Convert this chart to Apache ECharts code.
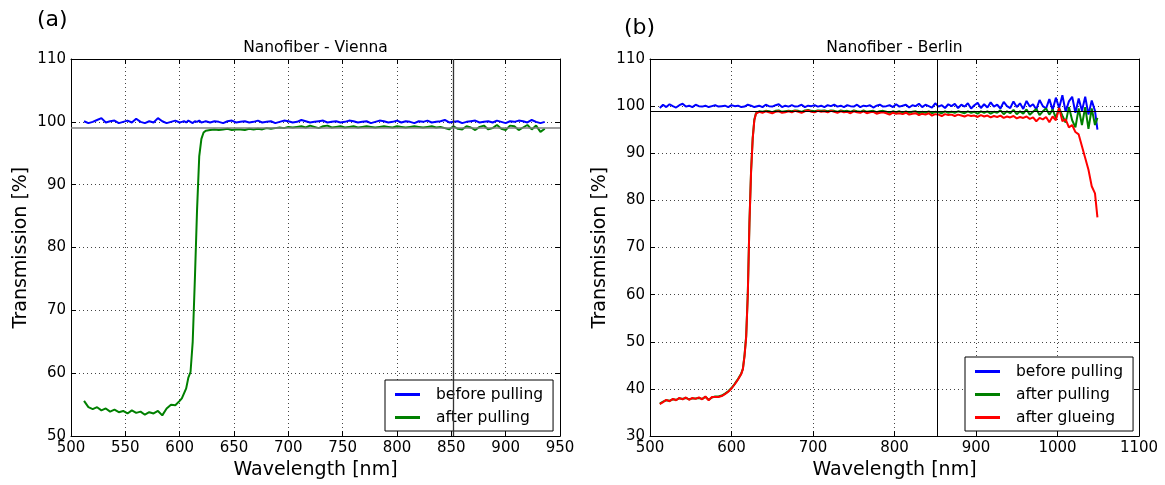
<!DOCTYPE html>
<html>
<head>
<meta charset="utf-8">
<script src="https://cdn.jsdelivr.net/npm/echarts@6/dist/echarts.min.js"></script>
<style>
html,body{margin:0;padding:0;background:#fff;}
#chart{width:1165px;height:485px;}
</style>
</head>
<body>
<div id="chart"></div>
<script>
// ---------- Panel (a): Nanofiber - Vienna ----------
const viennaWavelength = [
512,516,520,524,528,532,536,540,544,548,552,556,560,564,568,572,576,580,584,588,592,596,600,
602,604,606,608,610,612,614,616,618,620,622,624,
628,632,636,640,644,648,652,656,660,664,
668,672,676,680,684,688,692,696,700,704,
708,712,716,720,724,728,732,736,740,744,
748,752,756,760,764,768,772,776,780,784,
788,792,796,800,804,808,812,816,820,824,
828,832,836,840,844,848,852,856,860,864,
868,872,876,880,884,888,892,896,900,904,
908,912,916,920,924,928,932,936
];
const viennaBefore = [
100.1,99.8,100.0,100.3,100.6,99.9,100.1,100.2,99.8,100.0,100.2,99.9,100.5,100.0,99.8,100.1,99.9,100.6,100.1,99.8,100.0,100.2,99.9,
100.0,100.1,99.9,100.2,100.0,99.8,100.1,100.0,100.2,99.9,100.0,100.1,
99.9,100.1,100.0,99.8,100.1,100.2,99.9,100.0,100.1,99.9,
100.0,100.2,99.9,100.0,100.1,99.8,100.0,100.2,100.1,99.9,
100.0,100.3,100.1,99.9,100.0,100.1,100.2,99.9,100.0,100.1,
99.9,100.0,100.2,100.1,99.9,100.0,100.1,99.8,100.0,100.2,
100.1,99.9,100.0,100.2,99.9,100.1,100.0,99.8,100.1,100.0,
100.2,99.9,100.0,100.1,100.3,99.9,100.0,100.1,99.8,100.0,
100.1,100.2,99.9,100.0,100.1,99.9,100.2,100.0,99.8,100.1,
100.0,100.2,100.1,99.9,100.3,100.0,99.8,100.0
];
const viennaAfter = [
55.6,54.6,54.3,54.6,54.1,54.4,53.9,54.2,53.8,54.0,53.6,54.1,53.7,53.9,53.4,53.8,53.6,54.0,53.3,54.4,55.0,54.9,55.6,
56.0,56.8,57.6,59.3,60.2,65.0,75.0,86.0,94.5,97.3,98.3,98.6,
98.7,98.8,98.7,98.8,98.9,98.7,98.8,98.8,98.7,98.9,
98.8,98.9,98.8,99.0,98.9,99.0,99.1,99.0,99.2,99.1,
99.2,99.3,99.1,99.4,99.2,99.0,99.3,99.4,99.1,99.2,
99.3,99.1,99.2,99.3,99.1,99.2,99.3,99.2,99.1,99.2,
99.3,99.2,99.1,99.3,99.2,99.1,99.2,99.3,99.2,99.1,
99.2,99.3,99.1,99.2,99.0,98.8,99.3,98.9,98.8,99.3,
99.1,98.7,99.2,99.4,98.8,99.0,99.5,98.9,98.7,99.4,
99.3,98.7,99.1,99.5,98.8,99.4,98.4,98.9
];

// ---------- Panel (b): Nanofiber - Berlin ----------
const berlinWavelength = [
512,516,520,524,528,532,536,540,544,548,552,556,560,564,568,572,576,580,584,588,592,596,600,604,
606,608,610,612,614,616,618,620,622,624,626,628,630,
634,638,642,646,650,654,658,662,666,670,
674,678,682,686,690,694,698,702,706,710,
714,718,722,726,730,734,738,742,746,750,
754,758,762,766,770,774,778,782,786,790,
794,798,802,806,810,814,818,822,826,830,
834,838,842,846,850,854,858,862,866,870,
874,878,882,886,890,894,898,902,906,910,
914,918,922,926,930,934,938,942,946,950,
954,958,962,966,970,974,978,982,986,990,
994,998,1002,1006,1010,1014,1018,1022,1026,1030,
1034,1038,1042,1046,1049
];
const berlinBefore = [
99.6,100.3,99.8,100.4,100.0,99.7,100.2,100.5,99.9,100.1,99.8,100.3,100.0,99.9,100.1,99.8,100.0,100.2,99.9,100.0,100.1,99.8,100.2,100.0,
99.9,100.1,100.0,99.8,100.2,99.9,100.0,100.3,99.9,100.1,100.0,99.8,100.2,
100.1,99.8,100.3,100.0,99.9,100.2,100.4,99.8,100.1,99.9,
100.2,99.9,100.0,100.3,99.8,100.1,100.0,100.2,99.9,100.1,
99.8,100.2,100.0,100.3,99.9,100.1,99.8,100.2,100.0,99.9,
100.3,99.8,100.1,100.0,100.2,99.7,100.1,100.3,99.9,100.0,
100.2,99.8,100.4,99.9,100.1,100.3,99.7,100.2,100.0,100.5,
99.8,100.3,100.0,99.7,100.6,99.9,100.2,99.6,100.4,100.0,
100.5,99.6,100.3,99.9,100.6,99.5,100.2,100.7,99.6,100.4,
99.7,100.8,99.9,100.3,99.5,100.9,100.0,99.6,101.0,99.8,
100.6,99.4,101.1,99.9,100.4,99.3,101.3,100.0,99.5,101.5,
99.2,101.8,99.6,102.3,98.8,101.0,102.0,98.6,101.6,99.0,
102.0,98.2,101.2,99.0,95.0
];
const berlinAfterPulling = [
36.9,37.3,37.6,37.5,37.8,37.7,38.0,37.9,38.1,37.8,38.0,38.0,38.1,37.9,38.3,37.7,38.2,38.4,38.4,38.6,39.0,39.5,40.2,41.1,
41.6,42.1,42.7,43.3,44.3,47.2,51.2,60.2,75.2,86.2,93.2,97.1,98.5,
98.9,98.8,99.0,98.9,98.7,99.0,99.1,98.8,98.9,99.0,
98.9,99.1,99.0,98.8,99.1,99.2,99.0,98.9,99.1,99.0,
99.1,98.9,99.1,99.0,98.8,99.1,98.9,99.0,98.8,99.1,
98.9,98.8,99.1,98.8,98.9,99.0,98.7,98.9,99.0,98.8,
98.6,98.9,98.7,98.9,98.6,98.9,98.6,98.8,98.9,98.5,
98.8,98.6,98.9,98.5,98.8,98.7,98.5,98.9,98.6,98.8,
98.6,98.9,98.7,98.5,98.9,98.6,98.8,98.4,98.9,98.6,
98.9,98.4,98.8,98.6,99.1,98.3,98.9,98.5,99.2,98.3,
98.9,98.4,99.3,98.2,98.8,99.4,98.1,98.9,99.5,98.2,
99.3,97.5,99.6,98.0,96.5,99.8,97.0,95.5,99.5,96.0,
99.8,95.2,99.5,96.0,97.5
];
const berlinAfterGlueing = [
36.8,37.2,37.7,37.4,37.9,37.6,38.1,37.8,38.2,37.7,38.1,37.9,38.2,37.8,38.4,37.6,38.3,38.3,38.3,38.5,38.9,39.4,40.1,41.0,
41.5,42.0,42.6,43.2,44.2,47.0,51.0,60.0,75.0,86.0,93.0,97.0,98.4,
98.8,98.6,98.9,98.7,98.5,98.8,98.9,98.6,98.7,98.9,
98.7,99.0,98.8,98.6,98.9,99.1,98.8,98.7,99.0,98.8,
98.9,98.7,99.0,98.8,98.6,98.9,98.7,98.8,98.5,98.9,
98.7,98.6,98.9,98.5,98.7,98.8,98.4,98.6,98.7,98.5,
98.2,98.6,98.4,98.5,98.3,98.6,98.2,98.4,98.5,98.1,
98.4,98.2,98.5,98.0,98.3,98.2,97.9,98.3,98.1,98.2,
97.9,98.2,98.0,97.8,98.1,97.9,98.0,97.7,98.1,97.8,
98.0,97.6,97.9,97.7,98.0,97.5,97.8,97.6,97.9,97.4,
97.7,97.5,97.8,97.3,97.6,96.8,97.5,97.2,97.7,96.6,
97.8,97.0,99.6,96.8,97.2,95.5,96.0,94.5,94.0,91.5,
89.0,86.5,83.0,81.5,76.4
];

// reference lines
const markerWavelength = 852;
const markerTransmission = 99;

// axis ranges / ticks
const xTicksA = {min: 500, max: 950, interval: 50};
const yTicksA = {min: 50, max: 110, interval: 10};
const xTicksB = {min: 500, max: 1100, interval: 100};
const yTicksB = {min: 30, max: 110, interval: 10};

const FONT = 'DejaVu Sans';
const pair = (xs, ys) => xs.map((x, i) => [x, ys[i]]);
const plain = v => String(v);

function mainX(grid, t) {
  return {
    type: 'value', gridIndex: grid, position: 'bottom',
    min: t.min, max: t.max, interval: t.interval,
    name: 'Wavelength [nm]', nameLocation: 'middle', nameGap: 20,
    nameTextStyle: {fontFamily: FONT, fontSize: 19, color: '#000'},
    axisLine: {onZero: false, lineStyle: {color: '#000', width: 1}},
    axisTick: {inside: true, length: 5, lineStyle: {color: '#000'}},
    axisLabel: {fontFamily: FONT, fontSize: 15, color: '#000', margin: 5, formatter: plain},
    splitLine: {show: true, lineStyle: {color: '#444', type: [1, 3], width: 1}}
  };
}
function topX(grid, t) {
  return {
    type: 'value', gridIndex: grid, position: 'top',
    min: t.min, max: t.max, interval: t.interval,
    axisLine: {onZero: false, lineStyle: {color: '#000', width: 1}},
    axisTick: {inside: true, length: 5, lineStyle: {color: '#000'}},
    axisLabel: {show: false}, splitLine: {show: false}
  };
}
function mainY(grid, t) {
  return {
    type: 'value', gridIndex: grid, position: 'left',
    min: t.min, max: t.max, interval: t.interval,
    name: 'Transmission [%]', nameLocation: 'middle', nameGap: 40, nameRotate: 90,
    nameTextStyle: {fontFamily: FONT, fontSize: 19, color: '#000'},
    axisLine: {onZero: false, lineStyle: {color: '#000', width: 1}},
    axisTick: {inside: true, length: 5, lineStyle: {color: '#000'}},
    axisLabel: {fontFamily: FONT, fontSize: 15, color: '#000', margin: 5, formatter: plain},
    splitLine: {show: true, lineStyle: {color: '#444', type: [1, 3], width: 1}}
  };
}
function rightY(grid, t) {
  return {
    type: 'value', gridIndex: grid, position: 'right',
    min: t.min, max: t.max, interval: t.interval,
    axisLine: {onZero: false, lineStyle: {color: '#000', width: 1}},
    axisTick: {inside: true, length: 5, lineStyle: {color: '#000'}},
    axisLabel: {show: false}, splitLine: {show: false}
  };
}
function lineSeries(name, color, data, xi, yi, extra) {
  return Object.assign({
    type: 'line', name, data, xAxisIndex: xi, yAxisIndex: yi,
    showSymbol: false, symbol: 'none', clip: true,
    lineStyle: {color, width: 2}, itemStyle: {color},
    animation: false
  }, extra || {});
}
function legendBox(left, top, names) {
  return {
    data: names, left, top, orient: 'vertical',
    backgroundColor: '#fff', borderColor: '#000', borderWidth: 1, borderRadius: 0,
    padding: [6, 10, 5, 10], itemGap: 6, itemWidth: 25, itemHeight: 3, icon: 'rect',
    textStyle: {fontFamily: FONT, fontSize: 15.5, lineHeight: 17, color: '#000', padding: [0, 0, 0, 11]},
    selectedMode: false
  };
}

const option = {
  animation: false,
  backgroundColor: '#fff',
  grid: [
    {left: 71, top: 59, width: 489, height: 379},
    {left: 650, top: 59, width: 489, height: 379}
  ],
  xAxis: [mainX(0, xTicksA), topX(0, xTicksA), mainX(1, xTicksB), topX(1, xTicksB)],
  yAxis: [mainY(0, yTicksA), rightY(0, yTicksA), mainY(1, yTicksB), rightY(1, yTicksB)],
  legend: [
    legendBox(385, 380, ['before pulling', 'after pulling']),
    legendBox(965, 357, ['before pulling', 'after pulling', 'after glueing'])
  ],
  graphic: [
    {type: 'text', left: 37, top: 9, style: {text: '(a)', font: '22px "DejaVu Sans"', fill: '#000'}},
    {type: 'text', left: 624, top: 17, style: {text: '(b)', font: '22px "DejaVu Sans"', fill: '#000'}},
    {type: 'text', x: 315.5, y: 48, style: {text: 'Nanofiber - Vienna', font: '15.5px "DejaVu Sans"', fill: '#000', textAlign: 'center', textVerticalAlign: 'middle'}},
    {type: 'text', x: 894.5, y: 48, style: {text: 'Nanofiber - Berlin', font: '15.5px "DejaVu Sans"', fill: '#000', textAlign: 'center', textVerticalAlign: 'middle'}}
  ],
  series: [
    lineSeries('before pulling', '#0000ff', pair(viennaWavelength, viennaBefore), 0, 0, {
      markLine: {silent: true, symbol: 'none', label: {show: false}, animation: false,
        data: [
          {xAxis: markerWavelength, lineStyle: {color: '#333', width: 1.3, type: 'solid'}},
          {yAxis: markerTransmission, lineStyle: {color: '#808080', width: 1.5, type: 'solid'}}
        ]}
    }),
    lineSeries('after pulling', '#008000', pair(viennaWavelength, viennaAfter), 0, 0),
    lineSeries('before pulling', '#0000ff', pair(berlinWavelength, berlinBefore), 2, 2, {
      markLine: {silent: true, symbol: 'none', label: {show: false}, animation: false,
        data: [
          {xAxis: markerWavelength, lineStyle: {color: '#000', width: 1, type: 'solid'}},
          {yAxis: markerTransmission, lineStyle: {color: '#000', width: 1, type: 'solid'}}
        ]}
    }),
    lineSeries('after pulling', '#008000', pair(berlinWavelength, berlinAfterPulling), 2, 2),
    lineSeries('after glueing', '#ff0000', pair(berlinWavelength, berlinAfterGlueing), 2, 2)
  ]
};

const chart = echarts.init(document.getElementById('chart'), null, {renderer: 'canvas'});
chart.setOption(option);
</script>
</body>
</html>
